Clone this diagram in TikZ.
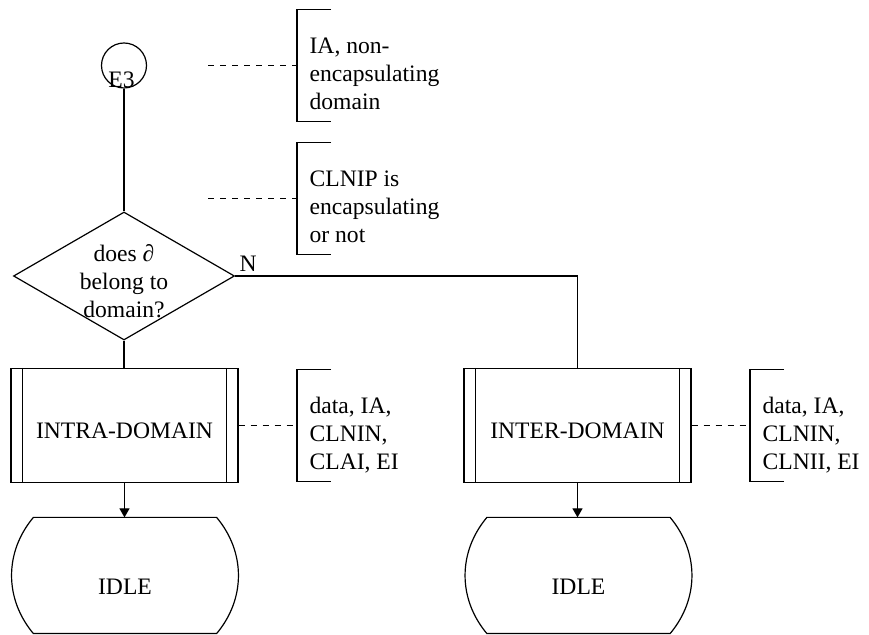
\documentclass[tikz,border=0pt]{standalone}
\usepackage{fontspec}
\setmainfont{Liberation Serif}
\usetikzlibrary{shapes.geometric, arrows.meta, positioning}

\begin{document}
\begin{tikzpicture}[
        x=0.5pt, y=-0.5pt,
        line width=0.6pt,
        every node/.style={font=\fontsize{11.8pt}{14pt}\selectfont},
        connector/.style={circle, draw, minimum size=22.5pt, inner sep=0pt},
        decision/.style={diamond, draw, minimum width=110.5pt, minimum height=64pt, inner sep=0pt},
        procbox/.style={rectangle, draw, minimum width=113.5pt, minimum height=57pt, text height=13.5pt, text depth=0pt,
            append after command={\pgfextra{\draw ([xshift=6pt]\tikzlastnode.north west) -- ([xshift=6pt]\tikzlastnode.south west)
                ([xshift=-6pt]\tikzlastnode.north east) -- ([xshift=-6pt]\tikzlastnode.south east);}}},
        idlestate/.style={minimum width=113pt, minimum height=57.5pt, text height=19.3pt, text depth=0pt,
            append after command={\pgfextra{\draw ([xshift=11pt]\tikzlastnode.north west) -- ([xshift=-11pt]\tikzlastnode.north east)
                to[bend left=40] ([xshift=-11pt]\tikzlastnode.south east) -- ([xshift=11pt]\tikzlastnode.south west)
                to[bend left=40] cycle;}}},
        notebox/.style={anchor=west, align=left, inner xsep=6pt, inner ysep=0pt, minimum height=55.5pt, text height=46pt, text depth=2pt,
            append after command={\pgfextra{\draw ([xshift=17pt]\tikzlastnode.north west) -| (\tikzlastnode.south west) -- ++(17pt,0pt);}}},
        commentline/.style={dashed},
        arrow/.style={->, >={Triangle[length=4.5pt, width=5pt]}}
    ]
        \useasboundingbox (0,0) rectangle (869,635);

        \node[connector] (e3) at (124,65.5) {};
        \node (e3lbl) at (121.5,79.5) {E3};

        \node[decision] (dec) at (124,276) {};
        \node[anchor=base, align=center] (dectxt) at (124,318) {does ∂\\belong to\\domain?};
        \node[above right=2pt and 2pt of dec.east, inner sep=0pt] (nlbl) {N};

        \node[procbox] (intra) at (124.5,425.5) {INTRA-DOMAIN};
        \node[procbox] (inter) at (577.5,425.5) {INTER-DOMAIN};

        \node[idlestate] (idleA) at (125,575.5) {IDLE};
        \node[idlestate] (idleB) at (578.5,575.5) {IDLE};

        % comments
        \node[notebox] (noteA) at (297,65.5) {IA, non-\\encapsulating\\domain};
        \node[notebox] (noteB) at (297,198.5) {CLNIP is\\encapsulating\\or not};
        \node[notebox] (noteC) at (297,425.5) {data, IA,\\CLNIN,\\CLAI, EI};
        \node[notebox] (noteD) at (750,425.5) {data, IA,\\CLNIN,\\CLNII, EI};
        \coordinate (dashA) at (208,65.5);
        \coordinate (dashB) at (208,198.5);

        \draw (e3.south) -- (dec.north);
        \draw (dec.south) -- (dec.south |- intra.north);
        \draw (dec.east) -| (inter.north);
        \draw[arrow] (intra.south) -- (intra.south |- idleA.north);
        \draw[arrow] (inter.south) -- (inter.south |- idleB.north);

        \draw[commentline] (dashA) -- (noteA.west);
        \draw[commentline] (dashB) -- (noteB.west);
        \draw[commentline] (intra.east) -- (noteC.west);
        \draw[commentline] (inter.east) -- (noteD.west);
    \end{tikzpicture}
\end{document}
